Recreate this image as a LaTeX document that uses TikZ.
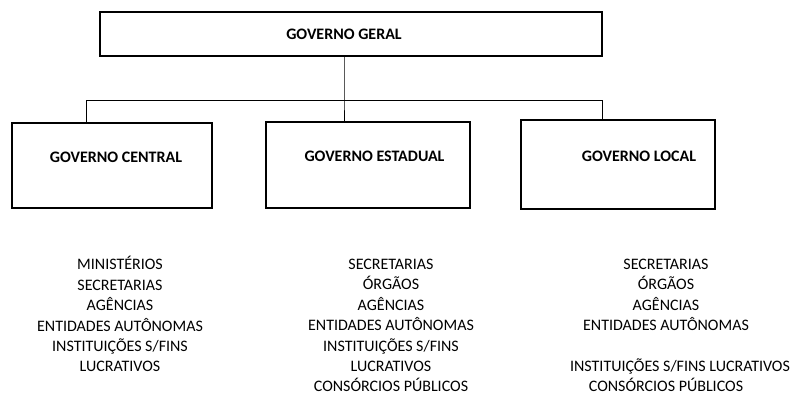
\documentclass[tikz,border=0pt]{standalone}
\usepackage{fontspec}
\setmainfont{Carlito}
\usepackage{tikz}

\begin{document}
\begin{tikzpicture}[x=1pt, y=-1pt,
  caixa/.style={draw, line width=2.6pt, inner sep=0pt,
    font=\bfseries\fontsize{16}{18}\selectfont},
  esfera/.style={caixa, text depth=17pt},
  lista/.style={anchor=north, align=center, inner sep=0pt,
    font=\fontsize{16}{20.4}\selectfont},
  liga/.style={line width=0.8pt}]

\useasboundingbox (0,0) rectangle (796,397);

\node[caixa, minimum width=502pt, minimum height=44pt] (geral) at (351,34)
  {\hspace*{-14pt}GOVERNO GERAL};

\node[esfera, minimum width=200pt, minimum height=85pt] (central) at (112,165.5)
  {\hspace*{8pt}GOVERNO CENTRAL};
\node[esfera, minimum width=204pt, minimum height=86pt] (estadual) at (368,165)
  {\hspace*{13pt}GOVERNO ESTADUAL};
\node[esfera, minimum width=194pt, minimum height=89pt] (local) at (618,164.5)
  {\hspace*{42pt}GOVERNO LOCAL};

\coordinate (eixo) at (344,100);
\coordinate (esq) at (86,100);
\coordinate (dir) at (602,100);

\draw[liga] (geral.south -| eixo)--(eixo)--(eixo |- estadual.north);
\draw[liga] (esq)--(dir);
\draw[liga] (esq)--(esq |- central.north);
\draw[liga] (dir)--(dir |- local.north);

\node[lista] (listacentral) at (120,256.3)
  {MINISTÉRIOS\\SECRETARIAS\\AGÊNCIAS\\ENTIDADES AUTÔNOMAS\\INSTITUIÇÕES S/FINS\\LUCRATIVOS};
\node[lista] (listaestadual) at (391,258.9)
  {SECRETARIAS\\ÓRGÃOS\\AGÊNCIAS\\ENTIDADES AUTÔNOMAS\\INSTITUIÇÕES S/FINS\\LUCRATIVOS\\CONSÓRCIOS PÚBLICOS};
\node[lista] (listalocal) at (666,258.9)
  {SECRETARIAS\\ÓRGÃOS\\AGÊNCIAS\\ENTIDADES AUTÔNOMAS\\[20.4pt]\hspace*{28pt}INSTITUIÇÕES S/FINS LUCRATIVOS\\CONSÓRCIOS PÚBLICOS};

\end{tikzpicture}
\end{document}
